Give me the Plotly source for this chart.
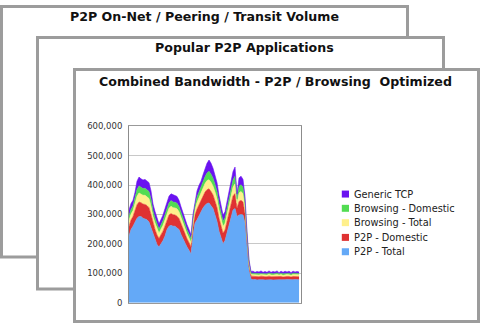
import numpy as np
import plotly.graph_objects as go

# Stacked bandwidth layers (thousands), bottom to top
p2p_total = [227, 249, 260, 276, 287, 293, 293, 287, 284, 282, 274, 254, 230, 214, 198, 189,
             200, 211, 227, 249, 260, 263, 260, 260, 254, 249, 232, 216, 200, 189, 178, 165,
             230, 271, 282, 296, 309, 322, 331, 337, 339, 331, 320, 298, 276, 243, 221, 200,
             211, 238, 260, 287, 315, 320, 293, 298, 300, 298, 270, 190, 110, 80,
             78, 79, 77, 78, 79, 78, 77, 78, 79, 78, 77, 78, 79, 78, 78, 77, 78, 79, 78, 77,
             78, 79, 78, 78]
p2p_domestic = [32, 32, 33, 37, 46, 49, 47, 48, 50, 48, 49, 46, 39, 35, 32, 29,
                31, 32, 34, 35, 38, 40, 39, 38, 40, 37, 35, 33, 30, 28, 26, 24,
                26, 28, 36, 38, 38, 42, 45, 47, 48, 47, 46, 47, 47, 44, 40, 36,
                36, 38, 42, 46, 48, 51, 28, 46, 48, 44, 33, 19, 14, 10,
                11, 10, 11, 10, 11, 10, 11, 10, 11, 10, 11, 10, 11, 10, 11, 10, 11, 10, 11, 10,
                11, 10, 11, 10]
browsing_total = [20, 20, 20, 23, 29, 31, 30, 30, 31, 30, 31, 29, 24, 22, 20, 18,
                  19, 20, 21, 22, 23, 25, 24, 24, 25, 23, 22, 20, 19, 17, 16, 15,
                  16, 18, 23, 24, 24, 26, 29, 31, 31, 31, 30, 31, 30, 28, 25, 23,
                  23, 24, 27, 29, 30, 33, 18, 29, 30, 28, 20, 12, 8, 6,
                  6, 6, 7, 6, 6, 7, 6, 6, 7, 6, 6, 7, 6, 6, 7, 6, 6, 7, 6, 6,
                  7, 6, 6, 7]
browsing_domestic = [16, 16, 16, 18, 23, 24, 23, 23, 24, 24, 24, 23, 19, 17, 16, 14,
                     15, 16, 17, 17, 18, 19, 19, 19, 19, 18, 17, 16, 15, 14, 13, 12,
                     13, 14, 18, 19, 19, 20, 23, 26, 29, 28, 27, 26, 25, 22, 20, 18,
                     18, 19, 21, 23, 24, 26, 14, 23, 23, 22, 17, 9, 6, 4,
                     5, 4, 4, 5, 4, 4, 5, 4, 4, 5, 4, 4, 5, 4, 4, 5, 4, 4, 5, 4,
                     4, 5, 4, 4]
generic_tcp = [20, 20, 19, 21, 28, 30, 28, 29, 30, 29, 30, 28, 23, 22, 19, 18,
               18, 19, 21, 22, 23, 23, 24, 23, 23, 21, 20, 19, 18, 17, 16, 14,
               15, 17, 21, 22, 23, 25, 29, 33, 38, 37, 34, 33, 30, 27, 25, 21,
               21, 23, 25, 28, 29, 31, 17, 28, 29, 27, 20, 10, 7, 6,
               7, 4, 7, 5, 8, 4, 7, 5, 7, 4, 8, 5, 7, 4, 7, 5, 8, 4, 7, 5,
               7, 4, 7, 5]

series_names = ["P2P - Total", "P2P - Domestic", "Browsing - Total",
                "Browsing - Domestic", "Generic TCP"]
series_values = [p2p_total, p2p_domestic, browsing_total, browsing_domestic, generic_tcp]
series_colors = ["#64A9F7", "#DF3232", "#FFF08C", "#52DC52", "#6A12F0"]

card_titles = ["P2P On-Net / Peering / Transit Volume",
               "Popular P2P Applications",
               "Combined Bandwidth - P2P / Browsing\u00a0 Optimized"]

W, H = 482, 328
px = lambda v: v / W
py = lambda v: 1 - v / H

samples = np.arange(len(p2p_total))

fig = go.Figure()
for name, vals, col in zip(series_names, series_values, series_colors):
    fig.add_trace(go.Scatter(
        x=samples, y=np.array(vals) * 1000, name=name, mode="lines",
        stackgroup="bw", line=dict(color=col, width=0.6), fillcolor=col,
        showlegend=False, hoverinfo="skip"))

# stacked "cards" behind the chart
shapes = []
cards = [(1.5, 1.5, 407.5, 260), (37.5, 33.5, 443.5, 293), (74.5, 66.5, 478.5, 326.5)]
for x0, y0, x1, y1 in cards:
    shapes.append(dict(type="rect", xref="paper", yref="paper", layer="below",
                       x0=px(x0), x1=px(x1), y0=py(y1), y1=py(y0),
                       line=dict(color="#9C9C9C", width=3), fillcolor="white"))

title_pos = [(204, 12), (244, 44), (275.5, 79)]
annotations = []
for t, (cx, cy) in zip(card_titles, title_pos):
    annotations.append(dict(text=t, xref="paper", yref="paper", x=px(cx), y=py(cy),
                            xanchor="center", yanchor="middle", showarrow=False,
                            font=dict(family="DejaVu Sans", size=12.6, color="#111111",
                                      weight="bold")))

# legend, top entry first
legend_rows = [195, 209.7, 224.5, 239.7, 254.5]
for (name, col), yc in zip(list(zip(series_names, series_colors))[::-1], legend_rows):
    shapes.append(dict(type="rect", xref="paper", yref="paper", layer="above",
                       x0=px(341.8), x1=px(349), y0=py(yc + 3.6), y1=py(yc - 3.6),
                       line=dict(width=0), fillcolor=col))
    annotations.append(dict(text=name, xref="paper", yref="paper", x=px(352), y=py(yc),
                            xanchor="left", yanchor="middle", showarrow=False,
                            font=dict(family="DejaVu Sans", size=9.8, color="#222222")))

fig.update_layout(
    width=W, height=H, margin=dict(l=0, r=0, t=0, b=0),
    paper_bgcolor="white", plot_bgcolor="rgba(0,0,0,0)",
    shapes=shapes, annotations=annotations, showlegend=False,
    xaxis=dict(domain=[px(129), px(300.7)], range=[0, 85.83], showticklabels=False,
               showgrid=False, zeroline=False, showline=True, linecolor="#999999",
               linewidth=1, mirror=True, ticks=""),
    yaxis=dict(domain=[py(307), py(125)], range=[0, 600000], dtick=100000,
               tickformat=",", showgrid=True, gridcolor="#C8C8C8", gridwidth=1,
               zeroline=False, showline=True, linecolor="#8C8C8C", linewidth=1,
               mirror=True, ticks="", ticklabelstandoff=4,
               tickfont=dict(family="DejaVu Sans", size=8.5, color="#333333")),
)

fig.write_html("out.html", config={"displayModeBar": False})
